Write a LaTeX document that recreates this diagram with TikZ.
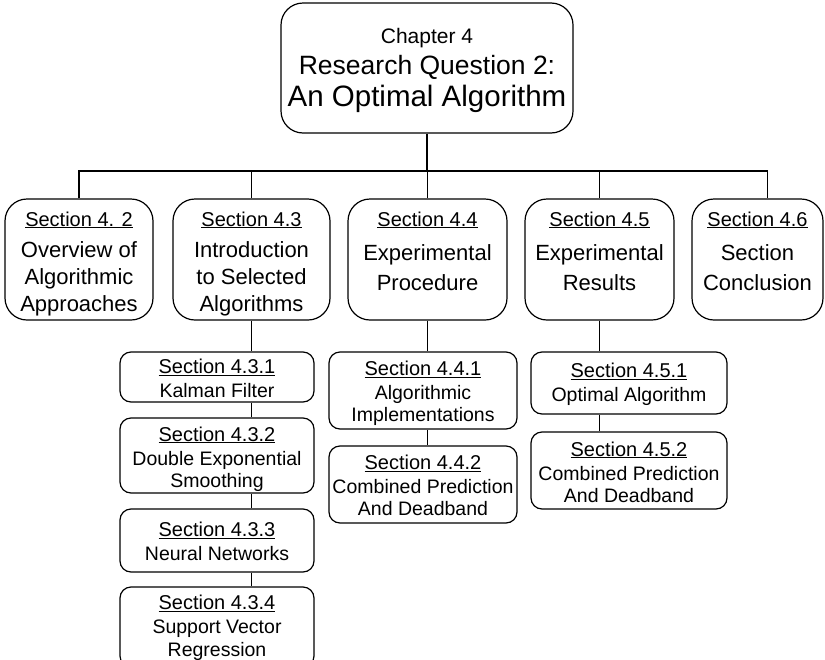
\documentclass[tikz,border=0pt]{standalone}
\usepackage{fontspec}
\setmainfont{Liberation Sans}
\usetikzlibrary{positioning}
\tikzset{
  chapbox/.style={draw, line width=1.2pt, rounded corners=22pt, minimum width=292pt, minimum height=130pt, inner sep=0pt},
  secbox/.style={draw, line width=1.2pt, rounded corners=22pt, minimum height=121pt, inner sep=0pt},
  subbox/.style={draw, line width=1.2pt, rounded corners=11pt, inner sep=0pt},
  sectext/.style={inner sep=0pt, align=center, font=\fontsize{22}{27}\selectfont},
  subtext/.style={inner sep=0pt, align=center, font=\fontsize{19.5}{22.5}\selectfont},
  link/.style={line width=1.1pt}
}
\newcommand{\seclabel}[1]{{\fontsize{20}{24}\selectfont\underline{#1}}}
\begin{document}
\begin{tikzpicture}[x=1pt,y=-1pt]
\useasboundingbox (0,0) rectangle (825,659);

\node[chapbox] (ch4) at (427,68) {};
\node[inner sep=0pt, align=center, font=\fontsize{21}{31.5}\selectfont, below=25.5pt of ch4.north] (ch4t)
  {Chapter 4\\{\fontsize{26.5}{30}\selectfont Research Question 2:}\\[0.5pt]{\fontsize{29.5}{34}\selectfont An Optimal Algorithm}};

\node[secbox, minimum width=148pt] (s42) at (79,259.5) {};
\node[secbox, minimum width=157pt] (s43) at (251.5,259.5) {};
\node[secbox, minimum width=159pt] (s44) at (427.5,259.5) {};
\node[secbox, minimum width=149pt] (s45) at (599.5,259.5) {};
\node[secbox, minimum width=131pt] (s46) at (757.5,259.5) {};

\node[sectext, below=13pt of s42.north] (s42t) {\seclabel{Section 4. 2}\\[4.5pt]Overview of\\Algorithmic\\Approaches};
\node[sectext, below=13pt of s43.north] (s43t) {\seclabel{Section 4.3}\\[4.5pt]Introduction\\to Selected\\Algorithms};
\node[sectext, below=13pt of s44.north] (s44t) {\seclabel{Section 4.4}\\[7.5pt]Experimental\\[3pt]Procedure};
\node[sectext, below=13pt of s45.north] (s45t) {\seclabel{Section 4.5}\\[7.5pt]Experimental\\[3pt]Results};
\node[sectext, below=13pt of s46.north] (s46t) {\seclabel{Section 4.6}\\[7.5pt]Section\\[3pt]Conclusion};

\node[subbox, minimum width=194pt, minimum height=50pt] (s431) at (217,377) {};
\node[subbox, minimum width=194pt, minimum height=75pt] (s432) at (217,455.5) {};
\node[subbox, minimum width=194pt, minimum height=63pt] (s433) at (217,540.5) {};
\node[subbox, minimum width=194pt, minimum height=80pt] (s434) at (217,627) {};
\node[subbox, minimum width=188pt, minimum height=77pt] (s441) at (423,390.5) {};
\node[subbox, minimum width=188pt, minimum height=77pt] (s442) at (423,484.5) {};
\node[subbox, minimum width=196pt, minimum height=62pt] (s451) at (629,383) {};
\node[subbox, minimum width=196pt, minimum height=77pt] (s452) at (629,470.5) {};

\node[subtext, below=7.4pt of s431.north] (s431t) {\seclabel{Section 4.3.1}\\[1.5pt]Kalman Filter};
\node[subtext, below=9pt of s432.north] (s432t) {\seclabel{Section 4.3.2}\\[1.5pt]Double Exponential\\Smoothing};
\node[subtext, below=13.4pt of s433.north] (s433t) {\seclabel{Section 4.3.3}\\[1.5pt]Neural Networks};
\node[subtext, below=8.4pt of s434.north] (s434t) {\seclabel{Section 4.3.4}\\[1.5pt]Support Vector\\Regression};
\node[subtext, below=9.4pt of s441.north] (s441t) {\seclabel{Section 4.4.1}\\[1.5pt]Algorithmic\\Implementations};
\node[subtext, below=9.4pt of s442.north] (s442t) {\seclabel{Section 4.4.2}\\[1.5pt]Combined Prediction\\And Deadband};
\node[subtext, below=11.4pt of s451.north] (s451t) {\seclabel{Section 4.5.1}\\[1.5pt]Optimal Algorithm};
\node[subtext, below=10pt of s452.north] (s452t) {\seclabel{Section 4.5.2}\\[1.5pt]Combined Prediction\\And Deadband};

\coordinate (bus) at (424,171);
\draw[link] (ch4.south) -- (ch4.south |- bus);
\draw[link] (s42.north) |- (bus) -| ([xshift=10pt]s46.north);
\foreach \s in {s43,s44,s45}
  \draw[link] (\s.north) -- (\s.north |- bus);

\draw[link] (s43.south) -- (s43.south |- s431.north);
\foreach \a/\b in {s431/s432,s432/s433,s433/s434}
  \draw[link] (\a.south -| s43) -- (\b.north -| s43);
\draw[link] (s44.south) -- (s44.south |- s441.north);
\draw[link] (s441.south -| s44) -- (s442.north -| s44);
\draw[link] (s45.south) -- (s45.south |- s451.north);
\draw[link] (s451.south -| s45) -- (s452.north -| s45);
\end{tikzpicture}
\end{document}
